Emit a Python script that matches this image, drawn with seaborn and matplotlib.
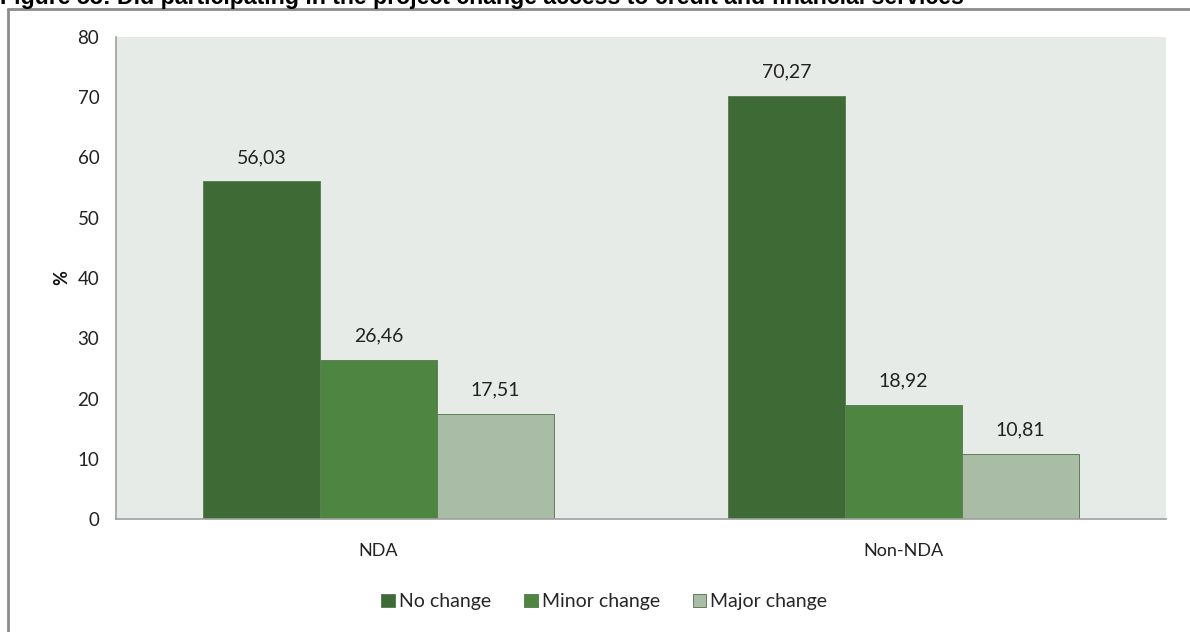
import matplotlib
matplotlib.use("Agg")
import matplotlib.pyplot as plt
from matplotlib.lines import Line2D
import seaborn as sns
import pandas as pd

groups = ["NDA", "Non-NDA"]
series = ["No change", "Minor change", "Major change"]
no_change = [56.03, 70.27]
minor_change = [26.46, 18.92]
major_change = [17.51, 10.81]
colors = ["#3E6B35", "#4E8540", "#A9BDA6"]
title = "Figure 55: Did participating in the project change access to credit and financial services"

df = pd.DataFrame({
    "group": groups * 3,
    "series": [s for s in series for _ in groups],
    "value": no_change + minor_change + major_change,
})

sns.set_theme(style="white")
plt.rcParams["font.family"] = ["Lato", "DejaVu Sans"]

fig = plt.figure(figsize=(11.9, 6.32), dpi=100)
ax = fig.add_axes([116 / 1190, 1 - 519 / 632, (1166 - 116) / 1190, (519 - 37) / 632])

sns.barplot(data=df, x="group", y="value", hue="series", order=groups,
            hue_order=series, palette=colors, width=0.667, saturation=1,
            edgecolor="#5E7F57", linewidth=0.7, ax=ax)

ax.set_facecolor("#E7EBE7")
ax.set_xlim(-0.5, 1.5)
ax.set_ylim(0, 80)
ax.set_yticks(range(0, 81, 10))
ax.tick_params(axis="y", length=0, labelsize=13.5, colors="#222222", pad=12)
ax.tick_params(axis="x", length=0, labelsize=13, colors="#222222", pad=17)
ax.set_xlabel("")
ax.set_ylabel("%", fontsize=13, fontweight="bold", color="#111111", labelpad=5)
for side in ["top", "right"]:
    ax.spines[side].set_visible(False)
for side in ["left", "bottom"]:
    ax.spines[side].set_color("#A0A0A0")
    ax.spines[side].set_linewidth(1.2)

for container in ax.containers:
    labels = [f"{b.get_height():.2f}".replace(".", ",") for b in container]
    ax.bar_label(container, labels=labels, padding=11, fontsize=14, color="#222222")

leg = ax.legend(loc="upper center", bbox_to_anchor=(0.465, -0.118), ncol=3, frameon=False,
                fontsize=14, handlelength=0.7, handleheight=0.7, handletextpad=0.2,
                columnspacing=1.7)
for h in leg.legend_handles:
    h.set_edgecolor("#5E7F57")

# page frame and cropped caption
fig.add_artist(Line2D([8 / 1190, 8 / 1190], [0, 1 - 9 / 632], transform=fig.transFigure,
                      color="#8C8C8C", lw=2))
fig.add_artist(Line2D([8 / 1190, 1], [1 - 9 / 632, 1 - 9 / 632], transform=fig.transFigure,
                      color="#8C8C8C", lw=2))
fig.text(0.0, 1 - 4 / 632, title, family=["Liberation Sans", "DejaVu Sans"],
         fontsize=16.7, fontweight="bold", color="#000000", ha="left", va="baseline")

fig.savefig("out.png", dpi=100, facecolor="white")
